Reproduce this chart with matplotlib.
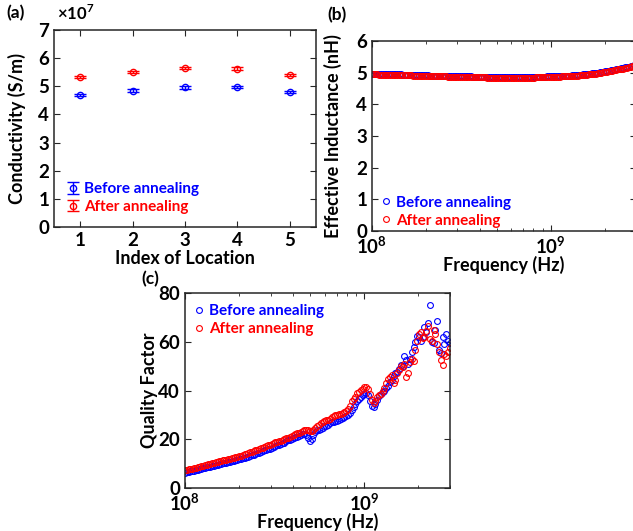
import numpy as np
import matplotlib
matplotlib.use("Agg")
import matplotlib.pyplot as plt
from matplotlib.ticker import NullFormatter, LogLocator
from matplotlib.container import ErrorbarContainer
from matplotlib.legend_handler import HandlerErrorbar

plt.rcParams['font.family'] = ['Lato', 'DejaVu Sans']
plt.rcParams['font.weight'] = 'bold'
plt.rcParams['mathtext.fontset'] = 'custom'
plt.rcParams['mathtext.rm'] = 'Lato'
plt.rcParams['mathtext.bf'] = 'Lato:bold'

# ---------------- data ----------------
location_index = [1, 2, 3, 4, 5]
cond_before = [4.68, 4.85, 4.96, 4.98, 4.80]   # x1e7 S/m
cond_after = [5.34, 5.50, 5.65, 5.63, 5.40]
cond_before_err = [0.04, 0.04, 0.04, 0.04, 0.04]
cond_after_err = [0.04, 0.04, 0.04, 0.04, 0.04]

freq_mhz = [100, 102, 105, 107, 110, 112, 115, 118, 120, 123,
            126, 129, 132, 135, 138, 141, 145, 148, 152, 155,
            159, 163, 166, 170, 174, 178, 183, 187, 191, 196,
            200, 205, 210, 215, 220, 225, 230, 236, 241, 247,
            253, 259, 265, 271, 277, 284, 291, 297, 304, 312,
            319, 326, 334, 342, 350, 358, 367, 375, 384, 393,
            403, 412, 422, 432, 442, 452, 463, 474, 485, 497,
            508, 520, 533, 545, 558, 571, 585, 599, 613, 627,
            642, 657, 673, 689, 705, 722, 739, 756, 774, 792,
            811, 830, 850, 870, 890, 911, 933, 955, 977, 1000,
            1024, 1048, 1073, 1098, 1124, 1150, 1178, 1205, 1234, 1263,
            1293, 1323, 1355, 1387, 1419, 1453, 1487, 1522, 1558, 1595,
            1633, 1672, 1711, 1751, 1793, 1835, 1879, 1923, 1968, 2015,
            2062, 2111, 2161, 2212, 2265, 2318, 2373, 2429, 2487, 2545,
            2605, 2667, 2730, 2795, 2861, 2928, 3000]

L_after = [4.95, 4.95, 4.95, 4.95, 4.94, 4.94, 4.94, 4.94, 4.94, 4.94,
           4.93, 4.93, 4.93, 4.93, 4.93, 4.93, 4.93, 4.92, 4.92, 4.92,
           4.92, 4.92, 4.92, 4.91, 4.91, 4.91, 4.91, 4.90, 4.90, 4.90,
           4.90, 4.90, 4.89, 4.89, 4.89, 4.89, 4.89, 4.88, 4.88, 4.88,
           4.88, 4.88, 4.87, 4.87, 4.87, 4.87, 4.87, 4.87, 4.87, 4.86,
           4.86, 4.86, 4.86, 4.86, 4.86, 4.86, 4.85, 4.85, 4.85, 4.85,
           4.85, 4.85, 4.85, 4.85, 4.84, 4.84, 4.84, 4.84, 4.84, 4.84,
           4.84, 4.84, 4.84, 4.84, 4.84, 4.84, 4.84, 4.84, 4.84, 4.84,
           4.84, 4.84, 4.84, 4.84, 4.84, 4.84, 4.84, 4.84, 4.84, 4.84,
           4.84, 4.85, 4.85, 4.85, 4.85, 4.85, 4.85, 4.86, 4.86, 4.86,
           4.86, 4.86, 4.87, 4.87, 4.87, 4.88, 4.88, 4.88, 4.89, 4.89,
           4.89, 4.90, 4.90, 4.91, 4.91, 4.92, 4.92, 4.93, 4.93, 4.94,
           4.95, 4.95, 4.96, 4.97, 4.97, 4.98, 4.99, 5.00, 5.01, 5.02,
           5.03, 5.04, 5.05, 5.06, 5.07, 5.08, 5.10, 5.11, 5.12, 5.13,
           5.15, 5.16, 5.17, 5.19, 5.20, 5.21, 5.22]

L_before = [4.97, 4.97, 4.97, 4.97, 4.96, 4.96, 4.96, 4.96, 4.96, 4.96,
            4.95, 4.95, 4.95, 4.95, 4.95, 4.95, 4.95, 4.94, 4.94, 4.94,
            4.94, 4.94, 4.94, 4.93, 4.93, 4.93, 4.93, 4.92, 4.92, 4.92,
            4.92, 4.92, 4.91, 4.91, 4.91, 4.91, 4.91, 4.90, 4.90, 4.90,
            4.90, 4.90, 4.89, 4.89, 4.89, 4.89, 4.89, 4.89, 4.89, 4.88,
            4.88, 4.88, 4.88, 4.88, 4.88, 4.88, 4.87, 4.87, 4.87, 4.87,
            4.87, 4.87, 4.87, 4.87, 4.86, 4.86, 4.86, 4.86, 4.86, 4.86,
            4.86, 4.86, 4.86, 4.86, 4.86, 4.86, 4.86, 4.86, 4.86, 4.86,
            4.86, 4.86, 4.86, 4.86, 4.86, 4.86, 4.86, 4.86, 4.86, 4.86,
            4.86, 4.87, 4.87, 4.87, 4.87, 4.87, 4.87, 4.88, 4.88, 4.88,
            4.88, 4.88, 4.89, 4.89, 4.89, 4.90, 4.90, 4.90, 4.91, 4.91,
            4.91, 4.92, 4.92, 4.93, 4.93, 4.94, 4.94, 4.95, 4.95, 4.96,
            4.97, 4.97, 4.98, 4.99, 4.99, 5.00, 5.01, 5.02, 5.03, 5.04,
            5.05, 5.06, 5.07, 5.08, 5.09, 5.10, 5.12, 5.13, 5.14, 5.15,
            5.17, 5.18, 5.19, 5.21, 5.22, 5.23, 5.24]

Q_after = [7.3, 7.4, 7.6, 7.8, 8.0, 8.2, 8.4, 8.6, 8.8, 9.0,
           9.2, 9.4, 9.6, 9.7, 9.9, 10.1, 10.3, 10.5, 10.7, 10.9,
           11.1, 11.3, 11.4, 11.6, 11.8, 12.1, 12.3, 12.5, 12.6, 12.8,
           13.0, 13.3, 13.6, 13.8, 14.1, 14.3, 14.6, 14.9, 15.2, 15.5,
           15.7, 16.0, 16.3, 16.6, 16.9, 17.2, 17.5, 17.7, 18.1, 18.4,
           18.7, 19.0, 19.2, 19.4, 19.7, 20.0, 20.4, 20.7, 21.1, 21.5,
           21.9, 22.3, 22.5, 22.7, 23.0, 23.3, 23.6, 23.9, 24.0, 23.5,
           23.2, 23.8, 24.6, 25.3, 25.9, 26.5, 27.0, 27.5, 27.7, 27.8,
           28.3, 29.0, 29.6, 29.9, 30.0, 30.2, 30.4, 30.6, 31.0, 31.5,
           32.5, 33.8, 35.5, 36.5, 37.5, 38.8, 39.5, 40.2, 40.8, 41.3,
           41.5, 40.8, 38.5, 36.0, 35.0, 35.8, 37.5, 38.0, 38.5, 40.0,
           41.0, 43.0, 44.8, 45.5, 46.5, 43.0, 44.5, 47.0, 48.5, 50.0,
           49.5, 51.0, 45.5, 47.0, 51.5, 53.0, 52.0, 56.5, 60.5, 63.0,
           64.0, 61.5, 62.0, 64.5, 66.5, 61.0, 60.5, 65.0, 63.0, 59.0,
           56.0, 52.5, 50.5, 55.0, 54.0, 56.0, 57.5]

Q_before = [6.3, 6.4, 6.6, 6.8, 7.0, 7.1, 7.3, 7.5, 7.7, 7.9,
            8.1, 8.3, 8.5, 8.6, 8.8, 9.0, 9.2, 9.4, 9.5, 9.7,
            9.9, 10.1, 10.2, 10.4, 10.6, 10.8, 11.0, 11.2, 11.3, 11.5,
            11.7, 12.0, 12.2, 12.4, 12.6, 12.9, 13.1, 13.4, 13.7, 14.0,
            14.2, 14.5, 14.8, 15.1, 15.4, 15.7, 16.0, 16.2, 16.6, 16.9,
            17.2, 17.5, 17.7, 18.0, 18.3, 18.6, 19.2, 19.5, 19.8, 20.1,
            20.5, 20.8, 21.1, 21.4, 21.7, 22.0, 22.2, 21.8, 20.5, 19.3,
            20.0, 21.8, 23.0, 23.6, 24.0, 24.4, 24.8, 25.3, 25.6, 26.0,
            26.5, 26.9, 27.2, 27.4, 27.6, 27.9, 28.3, 28.8, 29.1, 29.4,
            29.8, 30.8, 31.8, 33.2, 34.5, 35.5, 36.5, 37.2, 38.0, 38.6,
            39.0, 38.0, 35.5, 33.6, 33.2, 34.5, 36.0, 37.8, 38.5, 39.5,
            40.0, 41.0, 42.0, 43.5, 44.5, 46.0, 47.0, 47.5, 49.0, 50.5,
            50.0, 54.0, 52.5, 51.0, 53.0, 56.0, 58.0, 60.0, 62.5, 62.0,
            60.5, 62.0, 66.0, 64.0, 67.5, 75.0, 60.0, 59.5, 65.0, 68.5,
            56.5, 55.5, 62.0, 59.0, 63.0, 60.5, 59.5]

freq_hz = np.array(freq_mhz) * 1e6

BLUE = '#0000ff'
RED = '#ff0000'
AX_COL = '#262626'
W, H = 633, 531
TICK_FS = 13.5
LAB_FS = 13

fig = plt.figure(figsize=(W / 100, H / 100), dpi=100)


def rect(l, r, t, b):
    return [l / W, 1 - b / H, (r - l) / W, (b - t) / H]


def style(ax):
    for s in ax.spines.values():
        s.set_color(AX_COL)
        s.set_linewidth(1.1)
    ax.tick_params(which='both', direction='in', top=True, right=True,
                   colors=AX_COL, labelcolor='black', labelsize=TICK_FS)
    ax.tick_params(which='major', length=4, width=0.8)
    ax.tick_params(which='minor', length=2.5, width=0.6)
    for lab in ax.get_xticklabels() + ax.get_yticklabels():
        lab.set_fontweight('bold')


def legend(ax, loc, anchor, **kw):
    leg = ax.legend(loc=loc, bbox_to_anchor=anchor, frameon=False,
                    handlelength=0.6, handletextpad=0.4, borderaxespad=0.2,
                    labelspacing=0.25, prop={'weight': 'bold', 'size': 11}, **kw)
    for t, c in zip(leg.get_texts(), [BLUE, RED]):
        t.set_color(c)
    return leg


# ---------------- (a) ----------------
ax1 = fig.add_axes(rect(54, 316, 30, 227))
ax1.errorbar(location_index, cond_before, yerr=cond_before_err, fmt='o', color=BLUE,
             mfc='none', ms=4.5, mew=1.0, capsize=4, elinewidth=1.0, label='Before annealing')
ax1.errorbar(location_index, cond_after, yerr=cond_after_err, fmt='o', color=RED,
             mfc='none', ms=4.5, mew=1.0, capsize=4, elinewidth=1.0, label='After annealing')
ax1.set_xlim(0.5, 5.5)
ax1.set_ylim(0, 7)
ax1.set_xticks(location_index)
ax1.set_yticks(range(0, 8))
ax1.set_xlabel('Index of Location', fontsize=LAB_FS, fontweight='bold', labelpad=1)
ax1.set_ylabel('Conductivity (S/m)', fontsize=LAB_FS, fontweight='bold', labelpad=9)
style(ax1)
legend(ax1, 'lower left', (0.02, 0.02),
       handler_map={ErrorbarContainer: HandlerErrorbar(xerr_size=0.35, yerr_size=0.38)})
fig.text(57 / W, 1 - 13 / H, r'$\times 10^{7}$', fontsize=12, va='center', ha='left')
fig.text(6 / W, 1 - 13 / H, '(a)', fontsize=12.5, fontweight='bold', va='center', ha='left')

# ---------------- (b) ----------------
ax2 = fig.add_axes(rect(372, 636, 41, 231))
ax2.plot(freq_hz, L_before, 'o', color=BLUE, mfc='none', ms=4.2, mew=0.8,
         label='Before annealing')
ax2.plot(freq_hz, L_after, 'o', color=RED, mfc='none', ms=4.2, mew=0.8,
         label='After annealing')
ax2.set_xscale('log')
ax2.set_xlim(1e8, 3e9)
ax2.set_ylim(0, 6)
ax2.set_yticks(range(0, 7))
ax2.set_xticks([1e8, 1e9])
ax2.set_xticklabels([r'$\mathbf{10^{8}}$', r'$\mathbf{10^{9}}$'])
ax2.xaxis.set_minor_locator(LogLocator(base=10, subs=np.arange(2, 10)))
ax2.xaxis.set_minor_formatter(NullFormatter())
ax2.set_xlabel('Frequency (Hz)', fontsize=LAB_FS, fontweight='bold', labelpad=-1)
ax2.set_ylabel('Effective Inductance (nH)', fontsize=LAB_FS, fontweight='bold', labelpad=10)
style(ax2)
legend(ax2, 'lower left', (0.0, -0.03))
fig.text(327 / W, 1 - 15 / H, '(b)', fontsize=12.5, fontweight='bold', va='center', ha='left')

# ---------------- (c) ----------------
ax3 = fig.add_axes(rect(185, 450, 293, 488))
ax3.plot(freq_hz, Q_before, 'o', color=BLUE, mfc='none', ms=4.2, mew=0.8,
         label='Before annealing')
ax3.plot(freq_hz, Q_after, 'o', color=RED, mfc='none', ms=4.2, mew=0.8,
         label='After annealing')
ax3.set_xscale('log')
ax3.set_xlim(1e8, 3e9)
ax3.set_ylim(0, 80)
ax3.set_yticks([0, 20, 40, 60, 80])
ax3.set_xticks([1e8, 1e9])
ax3.set_xticklabels([r'$\mathbf{10^{8}}$', r'$\mathbf{10^{9}}$'])
ax3.xaxis.set_minor_locator(LogLocator(base=10, subs=np.arange(2, 10)))
ax3.xaxis.set_minor_formatter(NullFormatter())
ax3.set_xlabel('Frequency (Hz)', fontsize=LAB_FS, fontweight='bold', labelpad=-0.5)
ax3.set_ylabel('Quality Factor', fontsize=LAB_FS, fontweight='bold', labelpad=0)
style(ax3)
legend(ax3, 'upper left', (0.0, 0.99))
fig.text(141 / W, 1 - 279 / H, '(c)', fontsize=12.5, fontweight='bold', va='center', ha='left')

fig.savefig('out.png', dpi=100)
